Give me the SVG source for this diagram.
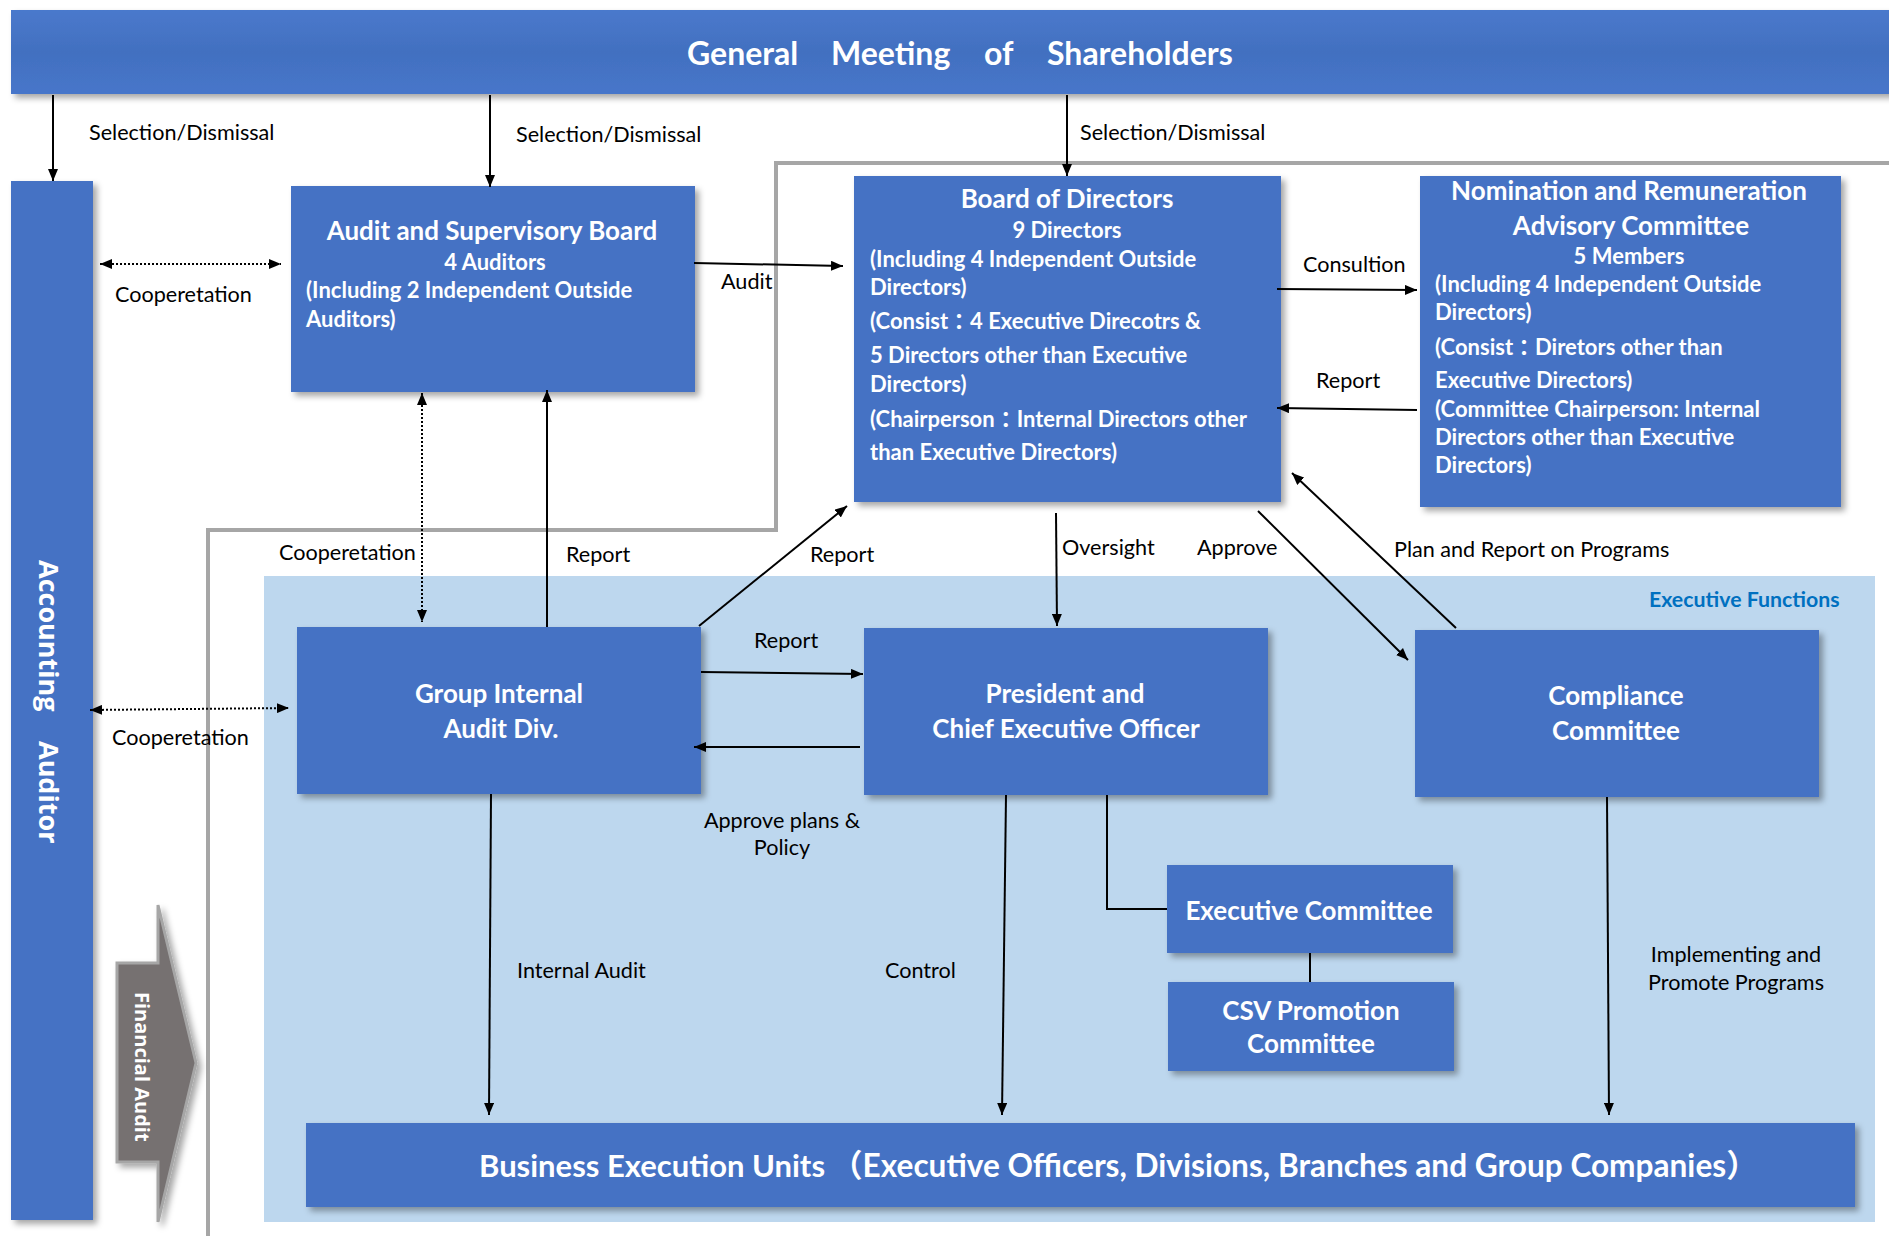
<svg xmlns="http://www.w3.org/2000/svg" width="1889" height="1236" viewBox="0 0 1889 1236">
<defs>
<filter id="sh" x="-10%" y="-10%" width="125%" height="130%">
<feDropShadow dx="4" dy="4" stdDeviation="3" flood-color="#000" flood-opacity="0.35"/>
</filter>
<marker id="ah" viewBox="0 0 12 10" refX="12" refY="5" markerWidth="12" markerHeight="10" markerUnits="userSpaceOnUse" orient="auto-start-reverse">
<path d="M0,0 L12,5 L0,10 z" fill="#000"/>
</marker>
<linearGradient id="bg" x1="0" y1="0" x2="0" y2="1">
<stop offset="0" stop-color="#4a79cc"/>
<stop offset="0.5" stop-color="#4270c0"/>
<stop offset="1" stop-color="#4776ca"/>
</linearGradient>
</defs>
<style>
.box{fill:#4472c4;filter:url(#sh);}
.t{font-family:Lato,"Noto Sans CJK JP",sans-serif;font-weight:bold;fill:#fff;}
.tt{font-size:26px;text-anchor:middle;}
.ts{font-size:22px;text-anchor:middle;}
.tb{font-size:22px;}
.lab{font-family:Lato,"Noto Sans CJK JP",sans-serif;font-size:21.6px;fill:#000;}
.c{stroke:#000;stroke-width:2;fill:none;}
.ca{stroke:#000;stroke-width:2;fill:none;marker-end:url(#ah);}
.cd{stroke:#000;stroke-width:2;fill:none;stroke-dasharray:2 2;marker-start:url(#ah);marker-end:url(#ah);}
.rot{font-family:"Open Sans",sans-serif;font-weight:bold;fill:#fff;}
</style>

<rect x="264" y="576" width="1611" height="646" fill="#bdd7ee"/>
<text x="1649" y="607" font-family="Lato,sans-serif" font-weight="bold" font-size="21.3" fill="#0070c0">Executive Functions</text>

<polyline points="1889,163 776,163 776,530 208,530 208,1236" fill="none" stroke="#a6a6a6" stroke-width="4"/>

<g id="shareholders">
<rect x="11" y="10" width="1890" height="84" fill="url(#bg)" filter="url(#sh)"/>
<text class="t" font-size="32" y="65"><tspan x="687">General</tspan><tspan x="831">Meeting</tspan><tspan x="984">of</tspan><tspan x="1047">Shareholders</tspan></text>
</g>

<g id="accounting-auditor">
<rect class="box" x="11" y="181" width="82" height="1039"/>
<text class="rot" font-size="27" transform="translate(39,560) rotate(90)"><tspan x="0" y="0">Accounting</tspan><tspan x="181" y="0">Auditor</tspan></text>
</g>

<g id="financial-audit">
<path d="M117,963 L158,963 L158,905 L196,1063 L158,1222 L158,1162 L117,1162 Z" fill="#767171" stroke="#a6a6a6" stroke-width="3" filter="url(#sh)"/>
<text class="rot" font-size="20" transform="translate(135,992) rotate(90)">Financial Audit</text>
</g>

<g id="audit-board">
<rect class="box" x="291" y="186" width="404" height="206"/>
<text class="t tt" x="492" y="240">Audit and Supervisory Board</text>
<text class="t ts" x="495" y="270">4 Auditors</text>
<text class="t tb" x="306" y="298">(Including 2 Independent Outside</text>
<text class="t tb" x="306" y="327">Auditors)</text>
</g>

<g id="board">
<rect class="box" x="854" y="176" width="427" height="326"/>
<text class="t tt" x="1067" y="208">Board of Directors</text>
<text class="t ts" x="1067" y="238">9 Directors</text>
<text class="t tb" x="870" y="267">(Including 4 Independent Outside</text>
<text class="t tb" x="870" y="295">Directors)</text>
<text class="t tb" x="870" y="329">(Consist：4 Executive Direcotrs &amp;</text>
<text class="t tb" x="870" y="363">5 Directors other than Executive</text>
<text class="t tb" x="870" y="392">Directors)</text>
<text class="t tb" x="870" y="427">(Chairperson：Internal Directors other</text>
<text class="t tb" x="870" y="460">than Executive Directors)</text>
</g>

<g id="nomination">
<rect class="box" x="1420" y="176" width="421" height="331"/>
<text class="t tt" x="1629" y="200">Nomination and Remuneration</text>
<text class="t tt" x="1631" y="235">Advisory Committee</text>
<text class="t ts" x="1629" y="264">5 Members</text>
<text class="t tb" x="1435" y="292">(Including 4 Independent Outside</text>
<text class="t tb" x="1435" y="320">Directors)</text>
<text class="t tb" x="1435" y="355">(Consist：Diretors other than</text>
<text class="t tb" x="1435" y="388">Executive Directors)</text>
<text class="t tb" x="1435" y="417">(Committee Chairperson: Internal</text>
<text class="t tb" x="1435" y="445">Directors other than Executive</text>
<text class="t tb" x="1435" y="473">Directors)</text>
</g>

<g id="group-internal-audit">
<rect class="box" x="297" y="627" width="404" height="167"/>
<text class="t tt" x="499" y="703">Group Internal</text>
<text class="t tt" x="501" y="738">Audit Div.</text>
</g>

<g id="president">
<rect class="box" x="864" y="628" width="404" height="167"/>
<text class="t tt" x="1065" y="703">President and</text>
<text class="t tt" x="1066" y="738" font-size="25.5">Chief Executive Officer</text>
</g>

<g id="compliance">
<rect class="box" x="1415" y="630" width="404" height="167"/>
<text class="t tt" x="1616" y="705">Compliance</text>
<text class="t tt" x="1616" y="740">Committee</text>
</g>

<g id="executive-committee">
<rect class="box" x="1167" y="865" width="286" height="88"/>
<text class="t tt" x="1309" y="920" font-size="25.7">Executive Committee</text>
</g>

<g id="csv">
<rect class="box" x="1168" y="982" width="286" height="89"/>
<text class="t tt" x="1311" y="1020">CSV Promotion</text>
<text class="t tt" x="1311" y="1053">Committee</text>
</g>

<g id="business-units">
<rect class="box" x="306" y="1123" width="1549" height="84"/>
<text class="t" font-size="31" y="1177"><tspan x="479">Business Execution Units</tspan><tspan x="831" font-size="31.6">（Executive Officers, Divisions, Branches and Group Companies）</tspan></text>
</g>

<g id="connectors">
<line class="ca" x1="53" y1="95" x2="53" y2="181"/>
<line class="ca" x1="490" y1="95" x2="490" y2="187"/>
<line class="ca" x1="1067" y1="95" x2="1067" y2="176"/>
<line class="cd" x1="100" y1="264" x2="281" y2="264"/>
<line class="ca" x1="694" y1="263" x2="843" y2="266"/>
<line class="ca" x1="1277" y1="289" x2="1417" y2="290"/>
<line class="ca" x1="1417" y1="410" x2="1277" y2="408"/>
<line class="cd" x1="422" y1="393" x2="422" y2="622"/>
<line class="ca" x1="547" y1="627" x2="547" y2="390"/>
<line class="ca" x1="699" y1="626" x2="847" y2="506"/>
<line class="ca" x1="1056" y1="513" x2="1057" y2="626"/>
<line class="ca" x1="1258" y1="511" x2="1408" y2="660"/>
<line class="ca" x1="1456" y1="628" x2="1292" y2="473"/>
<line class="ca" x1="701" y1="672" x2="863" y2="674"/>
<line class="ca" x1="860" y1="747" x2="694" y2="747"/>
<line class="cd" x1="90" y1="710" x2="289" y2="708"/>
<line class="ca" x1="491" y1="794" x2="489" y2="1115"/>
<line class="ca" x1="1006" y1="795" x2="1002" y2="1115"/>
<polyline class="c" points="1107,795 1107,909 1167,909"/>
<line class="c" x1="1310" y1="953" x2="1310" y2="982"/>
<line class="ca" x1="1607" y1="797" x2="1609" y2="1115"/>

<text class="lab" x="89" y="140">Selection/Dismissal</text>
<text class="lab" x="516" y="142">Selection/Dismissal</text>
<text class="lab" x="1080" y="140">Selection/Dismissal</text>
<text class="lab" x="115" y="302">Cooperetation</text>
<text class="lab" x="721" y="289">Audit</text>
<text class="lab" x="1303" y="272">Consultion</text>
<text class="lab" x="1316" y="388">Report</text>
<text class="lab" x="279" y="560">Cooperetation</text>
<text class="lab" x="566" y="562">Report</text>
<text class="lab" x="810" y="562">Report</text>
<text class="lab" x="1062" y="555">Oversight</text>
<text class="lab" x="1197" y="555">Approve</text>
<text class="lab" x="1394" y="557">Plan and Report on Programs</text>
<text class="lab" x="754" y="648">Report</text>
<text class="lab" x="112" y="745">Cooperetation</text>
<text class="lab" x="782" y="828" text-anchor="middle">Approve plans &amp;</text>
<text class="lab" x="782" y="855" text-anchor="middle">Policy</text>
<text class="lab" x="517" y="978">Internal Audit</text>
<text class="lab" x="885" y="978">Control</text>
<text class="lab" x="1736" y="962" text-anchor="middle">Implementing and</text>
<text class="lab" x="1736" y="990" text-anchor="middle">Promote Programs</text>
</g>
</svg>
